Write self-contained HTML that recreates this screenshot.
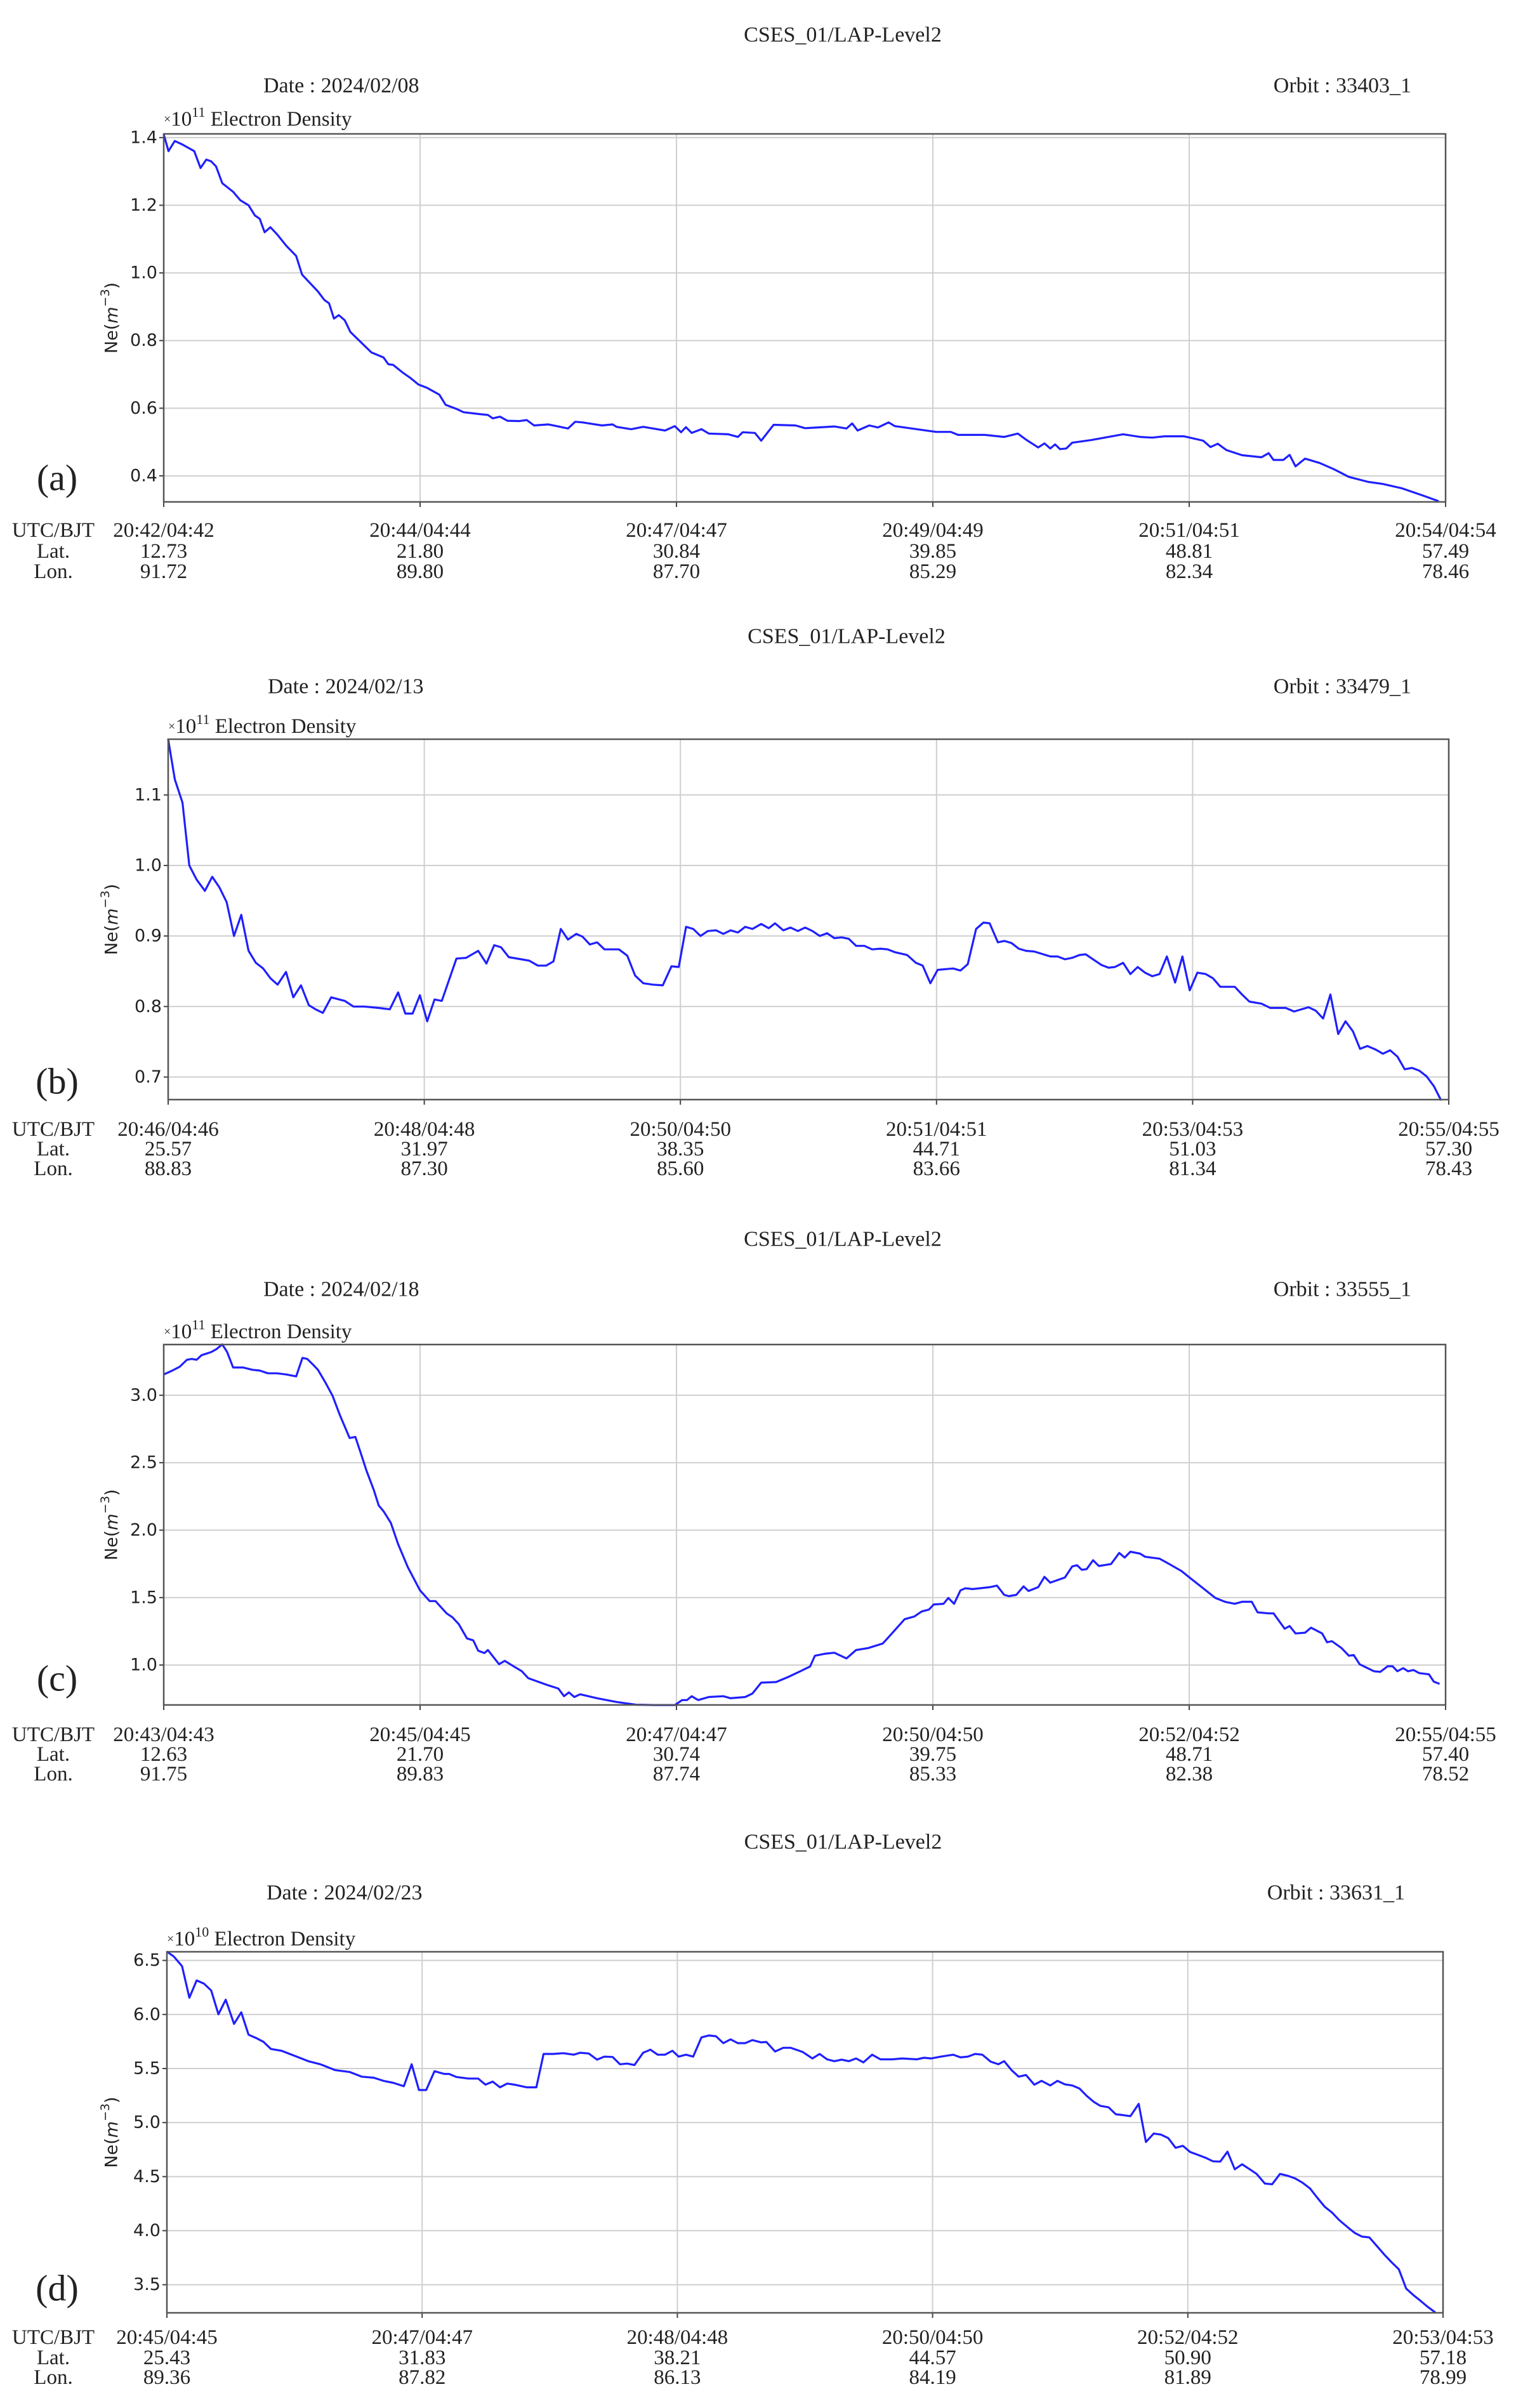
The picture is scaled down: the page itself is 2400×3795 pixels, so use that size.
<!DOCTYPE html>
<html><head><meta charset="utf-8"><title>CSES_01 LAP-Level2 Electron Density</title>
<style>
html,body{margin:0;padding:0;background:#fff;}
svg{display:block;}
.ser{font-family:"Liberation Serif","DejaVu Serif",serif;fill:#222;}
.san{font-family:"DejaVu Sans","Liberation Sans",sans-serif;fill:#222;}
</style></head>
<body>
<svg id="fig" xmlns="http://www.w3.org/2000/svg" width="2400" height="3795" viewBox="0 0 2400 3795"></svg>
<script>
// ---- Panel (a) data: x = % of orbit segment, y = Ne (x1e11)
const aX=[0,0.37,0.86,1.43,2.38,2.87,3.32,3.70,4.08,4.57,5.41,5.97,6.62,7.11,7.49,7.87,8.32,8.82,9.57,10.33,10.79,11.66,12.03,12.53,12.90,13.28,13.66,14.12,14.57,15.25,16.2,17.15,17.52,17.9,18.66,19.23,19.87,20.55,21.5,21.99,22.83,23.4,24.53,25.29,25.67,26.24,26.81,27.75,28.32,28.89,30.02,30.78,31.54,32.1,32.67,34.19,35.02,35.32,36.46,37.41,38.17,39.11,39.87,40.36,40.74,41.19,41.95,42.52,44.04,44.79,45.17,46.12,46.61,47.58,49.28,50.04,52.31,53.26,53.71,54.13,55.04,55.72,56.55,57.04,58.75,60.26,61.4,61.97,64.05,65.57,66.63,67.27,68.22,68.71,69.16,69.54,69.92,70.41,70.87,72.38,73.71,74.84,76.17,77.12,78.06,79.58,81.09,81.66,82.23,82.91,84.12,85.64,86.2,86.58,87.34,87.83,88.29,89.04,90.18,91.32,92.45,93.97,95.1,96.62,98.13,99.46];
const aY=[1.41,1.36,1.39,1.38,1.36,1.31,1.335,1.33,1.315,1.265,1.24,1.215,1.2,1.17,1.16,1.12,1.135,1.115,1.08,1.05,0.995,0.96,0.945,0.92,0.91,0.865,0.875,0.86,0.825,0.8,0.765,0.75,0.73,0.728,0.705,0.69,0.67,0.66,0.64,0.61,0.598,0.588,0.583,0.58,0.57,0.575,0.563,0.562,0.565,0.549,0.552,0.546,0.54,0.56,0.558,0.549,0.552,0.545,0.538,0.545,0.54,0.534,0.547,0.529,0.544,0.527,0.538,0.525,0.523,0.515,0.529,0.527,0.504,0.551,0.549,0.541,0.546,0.54,0.555,0.534,0.549,0.543,0.558,0.547,0.538,0.53,0.53,0.521,0.521,0.515,0.525,0.507,0.484,0.496,0.481,0.493,0.479,0.481,0.498,0.506,0.515,0.523,0.515,0.513,0.517,0.517,0.504,0.485,0.495,0.476,0.461,0.455,0.467,0.447,0.447,0.462,0.428,0.451,0.438,0.419,0.397,0.382,0.376,0.363,0.343,0.325];
const aTicks=["0.4","0.6","0.8","1.0","1.2","1.4"];
const aTime=["20:42/04:42","20:44/04:44","20:47/04:47","20:49/04:49","20:51/04:51","20:54/04:54"];
const aLat=["12.73","21.80","30.84","39.85","48.81","57.49"];
const aLon=["91.72","89.80","87.70","85.29","82.34","78.46"];

// ---- Panel (b)
const bX=[0,0.52,1.12,1.65,2.22,2.87,3.44,4.0,4.57,5.14,5.71,6.28,6.85,7.42,7.99,8.55,9.2,9.77,10.37,10.98,11.51,12.08,12.73,13.79,14.47,15.3,16.44,17.31,17.96,18.52,19.09,19.66,20.23,20.8,21.37,22.51,23.26,24.21,24.85,25.46,25.99,26.6,28.19,28.87,29.52,30.09,30.66,31.22,31.87,32.36,32.93,33.5,34.07,35.2,35.85,36.46,37.1,37.86,38.62,39.3,39.87,40.44,41.0,41.57,42.14,42.79,43.35,43.92,44.49,45.06,45.63,46.31,46.9,47.39,48.04,48.6,49.17,49.74,50.31,50.88,51.45,52.02,52.59,53.15,53.72,54.37,54.97,55.62,56.19,56.76,57.7,58.39,58.92,59.52,60.09,61.3,61.87,62.44,63.09,63.66,64.15,64.79,65.29,65.85,66.42,66.99,67.64,68.89,69.45,70.02,70.59,71.16,71.65,72.3,72.87,73.44,73.93,74.57,75.14,75.71,76.28,76.85,77.42,77.99,78.63,79.2,79.77,80.37,81.02,81.59,82.16,82.72,83.29,83.86,84.43,85.38,86.06,87.27,87.92,89.06,89.62,90.19,90.76,91.37,91.94,92.51,93.07,93.64,94.29,94.86,95.42,95.99,96.56,97.13,97.7,98.27,98.84,99.4];
const bY=[1.179,1.122,1.089,1.0,0.98,0.964,0.984,0.969,0.948,0.9,0.93,0.879,0.862,0.854,0.84,0.831,0.849,0.813,0.83,0.802,0.796,0.791,0.813,0.808,0.8,0.8,0.798,0.796,0.82,0.79,0.79,0.816,0.779,0.81,0.808,0.868,0.869,0.879,0.861,0.887,0.884,0.87,0.865,0.858,0.858,0.864,0.91,0.895,0.903,0.899,0.888,0.891,0.881,0.881,0.872,0.844,0.833,0.831,0.83,0.857,0.856,0.913,0.91,0.9,0.907,0.908,0.903,0.908,0.905,0.913,0.91,0.917,0.911,0.918,0.908,0.912,0.907,0.912,0.907,0.9,0.904,0.897,0.898,0.896,0.886,0.886,0.881,0.882,0.881,0.877,0.873,0.862,0.858,0.833,0.852,0.854,0.851,0.86,0.91,0.919,0.918,0.891,0.893,0.89,0.882,0.879,0.878,0.871,0.871,0.867,0.869,0.873,0.874,0.866,0.859,0.855,0.856,0.862,0.846,0.856,0.848,0.843,0.846,0.871,0.834,0.871,0.823,0.848,0.846,0.84,0.828,0.828,0.828,0.817,0.807,0.804,0.798,0.798,0.793,0.799,0.794,0.783,0.817,0.761,0.779,0.765,0.74,0.744,0.739,0.733,0.738,0.729,0.711,0.713,0.709,0.701,0.687,0.667];
const bTicks=["0.7","0.8","0.9","1.0","1.1"];
const bTime=["20:46/04:46","20:48/04:48","20:50/04:50","20:51/04:51","20:53/04:53","20:55/04:55"];
const bLat=["25.57","31.97","38.35","44.71","51.03","57.30"];
const bLon=["88.83","87.30","85.60","83.66","81.34","78.43"];

// ---- Panel (c)
const cX=[0,0.67,1.24,1.81,2.19,2.57,2.95,3.7,4.08,4.57,4.95,5.41,6.17,6.92,7.49,8.13,8.82,9.57,10.33,10.82,11.2,11.66,12.03,12.6,13.17,13.74,14.5,14.95,15.33,15.82,16.39,16.77,17.15,17.72,18.28,19.04,19.99,20.75,21.2,22.07,22.52,23.02,23.66,24.15,24.53,25.02,25.29,26.16,26.61,27.18,27.94,28.43,29.27,30.02,30.78,31.23,31.61,32.03,32.48,33.81,35.32,36.84,38.35,39.87,40.44,40.82,41.19,41.69,42.52,43.66,44.22,45.36,45.93,46.61,47.77,48.71,49.66,50.42,50.8,51.55,52.31,53.26,54.01,54.96,56.1,56.86,57.8,58.56,59.13,59.7,60.07,60.83,61.21,61.66,62.16,62.54,63.1,63.67,64.43,65.0,65.57,65.94,66.51,67.08,67.46,68.22,68.71,69.16,70.3,70.87,71.25,71.62,72.0,72.5,72.95,73.9,74.54,74.96,75.41,76.17,76.55,77.68,78.44,79.39,80.14,81.09,82.04,82.79,83.55,84.12,84.88,85.33,86.2,86.58,87.45,87.83,88.29,89.04,89.5,90.37,90.75,91.13,91.88,92.45,92.83,93.29,93.97,94.42,94.91,95.48,95.86,96.24,96.69,97.07,97.49,97.94,98.7,99.08,99.53];
const cY=[3.154,3.183,3.211,3.263,3.269,3.263,3.297,3.32,3.34,3.377,3.32,3.206,3.206,3.189,3.183,3.163,3.163,3.154,3.14,3.277,3.269,3.226,3.189,3.097,2.997,2.854,2.683,2.691,2.583,2.44,2.297,2.183,2.14,2.054,1.897,1.726,1.554,1.474,1.474,1.383,1.354,1.303,1.197,1.183,1.106,1.089,1.111,1.006,1.031,0.997,0.954,0.903,0.874,0.849,0.826,0.769,0.797,0.763,0.783,0.754,0.726,0.706,0.703,0.703,0.74,0.74,0.769,0.74,0.763,0.769,0.754,0.763,0.789,0.869,0.874,0.911,0.954,0.989,1.069,1.083,1.091,1.049,1.111,1.126,1.16,1.24,1.34,1.36,1.397,1.411,1.449,1.454,1.497,1.454,1.554,1.569,1.563,1.569,1.577,1.589,1.52,1.511,1.52,1.583,1.549,1.577,1.654,1.611,1.649,1.731,1.74,1.706,1.711,1.777,1.734,1.749,1.831,1.797,1.84,1.826,1.803,1.789,1.749,1.697,1.64,1.569,1.497,1.469,1.454,1.469,1.469,1.391,1.383,1.383,1.269,1.289,1.234,1.24,1.277,1.234,1.169,1.177,1.126,1.069,1.074,1.006,0.974,0.954,0.949,0.991,0.991,0.954,0.977,0.954,0.963,0.94,0.931,0.877,0.86];
const cTicks=["1.0","1.5","2.0","2.5","3.0"];
const cTime=["20:43/04:43","20:45/04:45","20:47/04:47","20:50/04:50","20:52/04:52","20:55/04:55"];
const cLat=["12.63","21.70","30.74","39.75","48.71","57.40"];
const cLon=["91.75","89.83","87.74","85.33","82.38","78.52"];

// ---- Panel (d) (x1e10)
const dX=[0,0.54,1.19,1.76,2.33,2.9,3.47,4.04,4.61,5.26,5.83,6.4,7.01,7.58,8.15,8.98,9.93,11.08,12.03,13.17,14.31,15.26,16.21,16.97,17.73,18.57,19.18,19.75,20.32,20.97,21.73,22.11,22.68,23.63,24.39,24.96,25.53,26.1,26.67,27.24,28.19,28.95,29.52,30.28,31.05,31.88,32.38,33.06,33.71,34.28,34.93,35.5,36.07,36.64,37.32,37.89,38.46,39.03,39.61,40.1,40.67,41.24,41.89,42.46,43.03,43.6,44.17,44.74,45.31,45.88,46.57,46.97,47.66,48.3,48.87,49.82,50.58,51.15,51.73,52.3,52.87,53.44,54.01,54.58,55.26,55.91,56.86,57.62,58.76,59.33,59.9,60.66,61.62,62.19,62.76,63.33,63.9,64.55,65.15,65.61,66.18,66.75,67.32,67.97,68.54,69.22,69.79,70.37,70.94,71.51,72.08,72.65,73.14,73.79,74.36,74.93,75.5,76.15,76.72,77.33,77.9,78.47,79.04,79.61,80.18,80.75,81.4,81.97,82.54,83.11,83.68,84.25,84.82,85.39,86.04,86.61,87.22,87.86,88.43,89.0,89.58,90.15,90.72,91.29,91.86,92.5,93.07,93.65,94.22,94.83,95.4,95.97,96.54,97.11,97.68,98.25,98.78,99.39];
const dY=[6.582,6.536,6.447,6.155,6.315,6.286,6.222,6.002,6.137,5.913,6.02,5.813,5.781,5.746,5.681,5.664,5.621,5.568,5.539,5.486,5.468,5.425,5.415,5.386,5.368,5.336,5.539,5.301,5.301,5.475,5.45,5.45,5.422,5.407,5.407,5.351,5.379,5.326,5.361,5.351,5.326,5.326,5.635,5.635,5.642,5.628,5.646,5.639,5.582,5.61,5.607,5.539,5.546,5.532,5.646,5.674,5.628,5.628,5.664,5.61,5.628,5.61,5.788,5.806,5.799,5.735,5.77,5.735,5.735,5.763,5.742,5.746,5.657,5.692,5.692,5.653,5.593,5.635,5.585,5.568,5.582,5.568,5.593,5.557,5.628,5.585,5.585,5.593,5.585,5.6,5.593,5.61,5.628,5.603,5.61,5.635,5.628,5.564,5.539,5.568,5.486,5.425,5.44,5.351,5.386,5.343,5.386,5.354,5.343,5.315,5.247,5.19,5.155,5.141,5.077,5.069,5.059,5.173,4.82,4.899,4.888,4.856,4.767,4.785,4.728,4.703,4.674,4.642,4.639,4.731,4.568,4.614,4.571,4.525,4.436,4.429,4.525,4.507,4.482,4.443,4.39,4.304,4.222,4.169,4.098,4.034,3.98,3.945,3.938,3.856,3.778,3.707,3.642,3.464,3.404,3.35,3.297,3.244];
const dTicks=["3.5","4.0","4.5","5.0","5.5","6.0","6.5"];
const dTime=["20:45/04:45","20:47/04:47","20:48/04:48","20:50/04:50","20:52/04:52","20:53/04:53"];
const dLat=["25.43","31.83","38.21","44.57","50.90","57.18"];
const dLon=["89.36","87.82","86.13","84.19","81.89","78.99"];

const NS="http://www.w3.org/2000/svg";
const svg=document.getElementById('fig');
function mk(tag,attrs,parent){const e=document.createElementNS(NS,tag);for(const k in attrs)e.setAttribute(k,attrs[k]);(parent||svg).appendChild(e);return e;}
function txt(s,attrs,parent){const e=mk('text',attrs,parent);e.textContent=s;return e;}

const panels=[
 {id:'a',X:aX,Y:aY,ticks:aTicks,time:aTime,lat:aLat,lon:aLon,date:'2024/02/08',orbit:'33403_1',exp:'11',L:258,T:211,R:2278,B:791,ymin:0.323,ymax:1.411,ttl:55,dt:135,ex:188,rows:[836,869,901],lab:753,orbX:2224},
 {id:'b',X:bX,Y:bY,ticks:bTicks,time:bTime,lat:bLat,lon:bLon,date:'2024/02/13',orbit:'33479_1',exp:'11',L:265,T:1165,R:2283,B:1733,ymin:0.668,ymax:1.179,ttl:1003,dt:1082,ex:1145,rows:[1780,1811,1842],lab:1704,orbX:2224},
 {id:'c',X:cX,Y:cY,ticks:cTicks,time:cTime,lat:cLat,lon:cLon,date:'2024/02/18',orbit:'33555_1',exp:'11',L:258,T:2119,R:2278,B:2687,ymin:0.704,ymax:3.376,ttl:1953,dt:2032,ex:2099,rows:[2734,2765,2796],lab:2645,orbX:2224},
 {id:'d',X:dX,Y:dY,ticks:dTicks,time:dTime,lat:dLat,lon:dLon,date:'2024/02/23',orbit:'33631_1',exp:'10',L:263,T:3076,R:2274,B:3645,ymin:3.24,ymax:6.58,ttl:2903,dt:2983,ex:3056,rows:[3684,3716,3747],lab:3606,orbX:2214}
];

panels.forEach(p=>{
 const g=mk('g',{});
 
 
 const xs=v=>p.L+(p.R-p.L)*v/100;
 const ys=v=>p.B-(p.B-p.T)*(v-p.ymin)/(p.ymax-p.ymin);
 const cx=(p.L+p.R)/2;
 let t=txt('CSES_01/LAP-Level2',{x:cx+60,y:p.ttl,'font-size':34,'text-anchor':'middle','dominant-baseline':'central',class:'ser'},g);
 
 t=txt('Date : '+p.date,{x:p.L+157,y:p.dt,'font-size':34,'dominant-baseline':'central',class:'ser'},g);
 
 t=txt('Orbit : '+p.orbit,{x:p.orbX,y:p.dt,'font-size':34,'text-anchor':'end','dominant-baseline':'central',class:'ser'},g);
 
 t=mk('text',{x:p.L,y:p.ex,'font-size':33,'dominant-baseline':'central',class:'ser'},g);
 t.innerHTML='<tspan font-size="20" dy="0">×</tspan><tspan>10</tspan><tspan font-size="22" dy="-12">'+p.exp+'</tspan><tspan dy="12"> Electron Density</tspan>';
 
 // grid
 const grid=mk('g',{},g);
 
 p.ticks.forEach(s=>{const y=ys(parseFloat(s));
  const l=mk('line',{x1:p.L,x2:p.R,y1:y,y2:y,stroke:'#cfcfcf','stroke-width':2},grid);
  
  const tl=txt(s,{x:p.L-10,y:y,'font-size':27,'text-anchor':'end','dominant-baseline':'central',class:'san'},g);
  
  const tk=mk('line',{x1:p.L-7,x2:p.L,y1:y,y2:y,stroke:'#444','stroke-width':2},g);
  
 });
 for(let i=0;i<6;i++){const x=p.L+(p.R-p.L)*i/5;
  if(i>0&&i<5){const l=mk('line',{x1:x,x2:x,y1:p.T,y2:p.B,stroke:'#cfcfcf','stroke-width':2},grid);
   }
  const tk=mk('line',{x1:x,x2:x,y1:p.B,y2:p.B+8,stroke:'#444','stroke-width':2},g);
  
  [p.time[i],p.lat[i],p.lon[i]].forEach((s,j)=>{
   const e=txt(s,{x:x,y:p.rows[j],'font-size':33,'text-anchor':'middle','dominant-baseline':'central',class:'ser'},g);
   
  });
 }
 ['UTC/BJT','Lat.','Lon.'].forEach((s,j)=>{
  const e=txt(s,{x:84,y:p.rows[j],'font-size':33,'text-anchor':'middle','dominant-baseline':'central',class:'ser'},g);
  
 });
 // series
 let d='';p.X.forEach((v,i)=>{d+=(i?'L':'M')+xs(v).toFixed(1)+','+ys(p.Y[i]).toFixed(1);});
 const path=mk('path',{d:d,fill:'none',stroke:'#1f1fff','stroke-width':3.2,'stroke-linejoin':'round'},g);
 
 // frame
 const fr=mk('rect',{x:p.L,y:p.T,width:p.R-p.L,height:p.B-p.T,fill:'none',stroke:'#555','stroke-width':2.5},g);
 
 const yl=txt('Ne(',{transform:'translate(176,'+((p.T+p.B)/2)+') rotate(-90)','font-size':27,'text-anchor':'middle','dominant-baseline':'central',class:'san'},g);
 yl.innerHTML='Ne(<tspan font-style="italic">m</tspan><tspan font-size="19" dy="-10">−3</tspan><tspan dy="10">)</tspan>';
 
 const pl=txt('('+p.id+')',{x:90,y:p.lab,'font-size':58,'text-anchor':'middle','dominant-baseline':'central',class:'ser'},g);
 
});
</script>
</body></html>
